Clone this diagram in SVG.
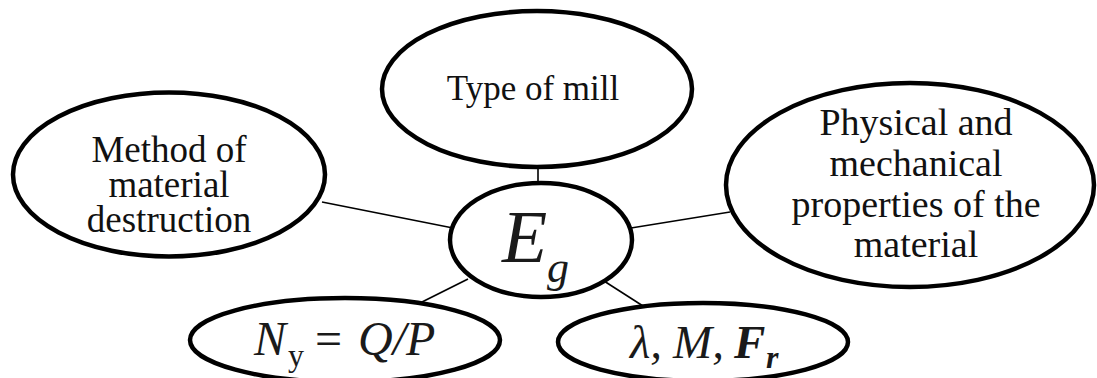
<svg xmlns="http://www.w3.org/2000/svg" width="1097" height="378" viewBox="0 0 1097 378">
<style>
.n{fill:#fff;stroke:#000;stroke-width:4.5}
.c{stroke:#000;stroke-width:1.6;fill:none}
.t{font-family:"Liberation Serif","Times New Roman",serif;fill:#111;text-anchor:middle}
.m{font-family:"Liberation Serif","Times New Roman",serif;fill:#1a1a1a;font-style:italic}
.u{font-style:normal}
.b{font-weight:bold}
</style>
<rect width="1097" height="378" fill="#fff"/>
<g id="connectors">
<line class="c" x1="538" y1="166" x2="538" y2="185"/>
<line class="c" x1="322" y1="202" x2="453" y2="228"/>
<line class="c" x1="631" y1="228" x2="730" y2="212"/>
<line class="c" x1="420" y1="303" x2="468" y2="279"/>
<line class="c" x1="604" y1="281" x2="643" y2="306"/>
</g>
<g id="type-of-mill">
<ellipse class="n" cx="537" cy="89" rx="155" ry="78"/>
<text class="t" x="533" y="100" font-size="35">Type of mill</text>
</g>
<g id="method">
<ellipse class="n" cx="169" cy="174.5" rx="156" ry="82"/>
<text class="t" font-size="37"><tspan x="169" y="162">Method of</tspan><tspan x="169" y="197">material</tspan><tspan x="169" y="232">destruction</tspan></text>
</g>
<g id="properties">
<ellipse class="n" cx="910" cy="185" rx="184" ry="102"/>
<text class="t" font-size="38"><tspan x="916" y="135">Physical and</tspan><tspan x="916" y="176">mechanical</tspan><tspan x="916" y="217">properties of the</tspan><tspan x="916" y="257">material</tspan></text>
</g>
<g id="eg">
<ellipse class="n" cx="541" cy="240" rx="91" ry="57"/>
<text class="m" x="502" y="262" font-size="74">E</text>
<text class="m" x="547" y="282" font-size="44">g</text>
</g>
<g id="ny">
<ellipse class="n" cx="345" cy="340" rx="155" ry="42"/>
<text class="m" x="254" y="355" font-size="48">N</text>
<text class="m u" x="288" y="366" font-size="32">y</text>
<text class="m u" x="315" y="355" font-size="48">=</text>
<text class="m" x="358" y="355" font-size="48">Q/P</text>
</g>
<g id="lambda">
<ellipse class="n" cx="703" cy="342" rx="145" ry="39"/>
<text class="m" x="630" y="358" font-size="47">λ,</text>
<text class="m" x="673" y="358" font-size="47">M,</text>
<text class="m b" x="734" y="358" font-size="47">F</text>
<text class="m b" x="766" y="368" font-size="32">r</text>
</g>
</svg>
